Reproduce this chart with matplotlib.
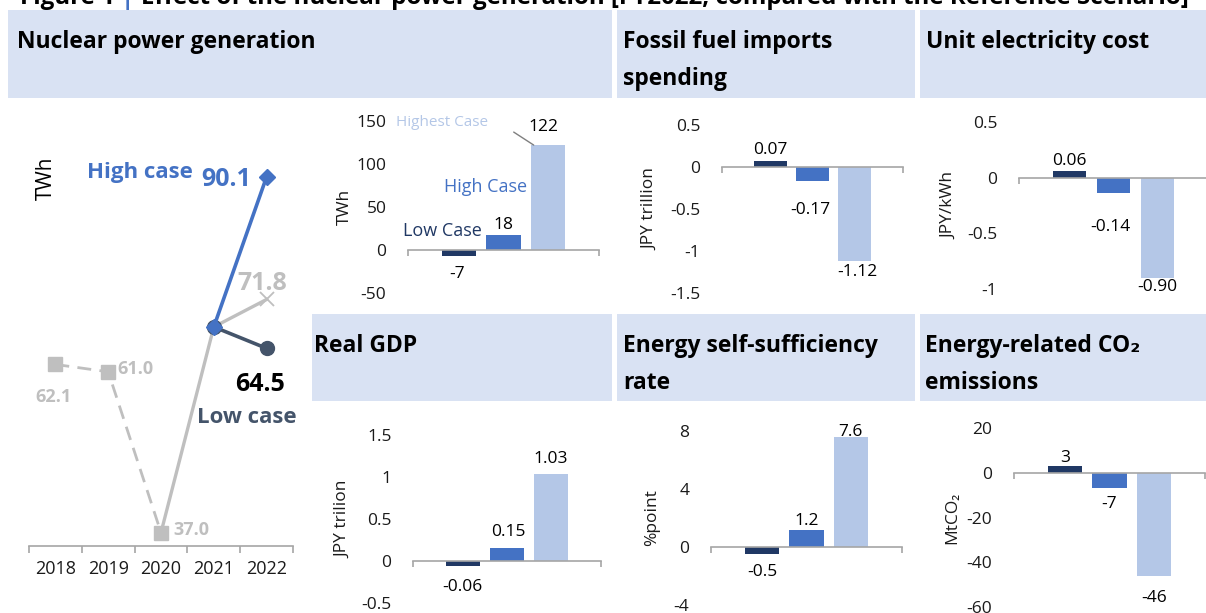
import matplotlib
matplotlib.use('Agg')
import matplotlib.pyplot as plt
from matplotlib.patches import Rectangle
import numpy as np

plt.rcParams['font.family'] = ['Open Sans', 'DejaVu Sans']
plt.rcParams['axes.unicode_minus'] = False
plt.rcParams['font.size'] = 12.5

# ---------------- data ----------------
years = ['2018', '2019', '2020', '2021', '2022']
hist_vals = [62.1, 61.0, 37.0]          # FY2018-2020
ref_vals = [37.0, 67.7, 71.8]           # FY2020-2022 (reference)
high_vals = [67.7, 90.1]                # FY2021-2022 high case
low_vals = [67.7, 64.5]                 # FY2021-2022 low case

cases = ['Low Case', 'High Case', 'Highest Case']
nuclear_diff = [-7, 18, 122]
fossil_diff = [0.07, -0.17, -1.12]
unitcost_diff = [0.06, -0.14, -0.90]
gdp_diff = [-0.06, 0.15, 1.03]
selfsuff_diff = [-0.5, 1.2, 7.6]
co2_diff = [3, -7, -46]

nuclear_ticks = [-50, 0, 50, 100, 150]
fossil_ticks = [-1.5, -1, -0.5, 0, 0.5]
unitcost_ticks = [-1, -0.5, 0, 0.5]
gdp_ticks = [-0.5, 0, 0.5, 1, 1.5]
selfsuff_ticks = [-4, 0, 4, 8]
co2_ticks = [-60, -40, -20, 0, 20]

title_a = 'Figure 1'
title_b = 'Effect of the nuclear power generation [FY2022, compared with the Reference Scenario]'
headers = [
    ['Nuclear power generation'],
    ['Fossil fuel imports', 'spending'],
    ['Unit electricity cost'],
    ['Real GDP'],
    ['Energy self-sufficiency', 'rate'],
    ['Energy-related CO\u2082', 'emissions'],
]

# ---------------- styling ----------------
W, H = 1206, 613
BOX = '#D9E2F3'
C_LOW = '#203864'
C_HIGH = '#4472C4'
C_HIGHEST = '#B4C7E7'
C_GRAY = '#BFBFBF'
C_SLATE = '#44546A'
C_AXIS = '#A6A6A6'
TXT = '#1a1a1a'

fig = plt.figure(figsize=(W / 100, H / 100), dpi=100)


def fx(x):
    return x / W


def fy(y):
    return 1 - y / H


# header boxes (pixel coords x0, y0, x1, y1)
boxes = [(8, 10, 612, 98), (617, 10, 915, 98), (920, 10, 1206, 98),
         (312, 314, 612, 401), (617, 314, 915, 401), (920, 314, 1206, 401)]
text_x = [17, 623, 926, 314, 623, 925]
for (x0, y0, x1, y1), lines, tx in zip(boxes, headers, text_x):
    fig.add_artist(Rectangle((fx(x0), fy(y1)), (x1 - x0) / W, (y1 - y0) / H,
                             transform=fig.transFigure, facecolor=BOX,
                             edgecolor='none', zorder=-5))
    for i, ln in enumerate(lines):
        fig.text(fx(tx), fy(y0 + 38 + 37 * i), ln, fontsize=16.5,
                 fontweight='bold', va='baseline', ha='left', color='#000000')

# title (cut off at the top)
r = fig.canvas.get_renderer()
ts = 15
t_a = fig.text(fx(20), fy(4), title_a, fontsize=ts, fontweight='bold', va='baseline')
t_bar = fig.text(fx(111), fy(4), '|', fontsize=ts, fontweight='bold', va='baseline', color=C_HIGH)
t_b = fig.text(fx(127), fy(4), title_b, fontsize=ts, fontweight='bold', va='baseline')


def layout_title(size):
    for t in (t_a, t_bar, t_b):
        t.set_fontsize(size)
    xa = 20
    t_a.set_x(fx(xa))
    ea = t_a.get_window_extent(renderer=r).x1
    t_bar.set_x(fx(ea + 6))
    eb = t_bar.get_window_extent(renderer=r).x1
    t_b.set_x(fx(eb + 7))
    return t_b.get_window_extent(renderer=r).x1


end = layout_title(ts)
ts = ts * (1192 - 20) / (end - 20)
layout_title(ts)

# ---------------- left line chart ----------------
yl0, yl1 = 35, 97
axL = fig.add_axes([fx(29), fy(546), (293 - 29) / W, ((yl1 - yl0) * 6.7) / H])
axL.set_facecolor('none')
axL.set_xlim(-0.5, 4.5)
axL.set_ylim(yl0, yl1)
for s in ['left', 'right', 'top']:
    axL.spines[s].set_visible(False)
axL.spines['bottom'].set_color(C_AXIS)
axL.spines['bottom'].set_linewidth(1.2)
axL.set_yticks([])
axL.set_xticks(np.arange(-0.5, 5, 1))
axL.set_xticklabels([])
axL.tick_params(axis='x', which='major', length=5, color=C_AXIS, width=1.2)
axL.set_xticks(np.arange(5), minor=True)
axL.set_xticklabels(years, minor=True, fontsize=13, color=TXT)
axL.tick_params(axis='x', which='minor', length=0, pad=10)

xh = [0, 1, 2]
xr = [2, 3, 4]
xc = [3, 4]
axL.plot(xr, ref_vals, color=C_GRAY, lw=2.4, zorder=2, clip_on=False)
axL.plot(xr[-1], ref_vals[-1], marker='x', ms=10, mew=1.3, color=C_GRAY, zorder=2, clip_on=False)
axL.plot(xh, hist_vals, color=C_GRAY, lw=2, ls=(0, (5, 3)), marker='s', ms=10,
         zorder=3, clip_on=False)
axL.plot(xc, low_vals, color=C_SLATE, lw=2.6, marker='o', ms=10, zorder=4, clip_on=False)
axL.plot(xc, high_vals, color=C_HIGH, lw=2.6, marker='D', ms=8.5, zorder=5, clip_on=False)


def lab(ax, x, y, s, dx, dy, **kw):
    ax.annotate(s, (x, y), xytext=(dx, dy), textcoords='offset pixels',
                va='center', annotation_clip=False, **kw)


gray_kw = dict(color=C_GRAY, fontweight='bold')
lab(axL, 0, hist_vals[0], f'{hist_vals[0]:.1f}', -2, -33, ha='center', fontsize=13, **gray_kw)
lab(axL, 1, hist_vals[1], f'{hist_vals[1]:.1f}', 9, 3, ha='left', fontsize=13, **gray_kw)
lab(axL, 2, hist_vals[2], f'{hist_vals[2]:.1f}', 12, 3, ha='left', fontsize=13, **gray_kw)
lab(axL, 4, ref_vals[2], f'{ref_vals[2]:.1f}', -4, 16, ha='center', fontsize=18, **gray_kw)
lab(axL, 4, high_vals[1], f'{high_vals[1]:.1f}', -15, -3, ha='right', fontsize=18,
    color=C_HIGH, fontweight='bold')
lab(axL, 4, low_vals[1], f'{low_vals[1]:.1f}', -7, -36, ha='center', fontsize=18,
    color='#000000', fontweight='bold')
lab(axL, 4, high_vals[1], 'High case', -127, 4, ha='center', fontsize=16,
    color=C_HIGH, fontweight='bold')
lab(axL, 4, low_vals[1], 'Low case', -20, -69, ha='center', fontsize=16,
    color=C_SLATE, fontweight='bold')
fig.text(fx(46), fy(178), 'TWh', rotation=90, ha='center', va='center', fontsize=15, color='#000000')

# ---------------- bar panels ----------------
bar_colors = [C_LOW, C_HIGH, C_HIGHEST]


def bar_panel(L, R, top, bottom, vals, ticks, ylabel, ylab_x, fmt, dys, dxs):
    ax = fig.add_axes([fx(L), fy(bottom), (R - L) / W, (bottom - top) / H])
    ax.set_facecolor('none')
    ax.set_xlim(-1.15, 3.15)
    ax.set_ylim(ticks[0], ticks[-1])
    xs = np.arange(len(vals))
    ax.bar(xs, vals, width=0.77, color=bar_colors, zorder=2)
    for s in ['left', 'right', 'top']:
        ax.spines[s].set_visible(False)
    ax.spines['bottom'].set_position(('data', 0))
    ax.spines['bottom'].set_color(C_AXIS)
    ax.spines['bottom'].set_linewidth(1.2)
    ax.set_xticks([-1.15, 3.15])
    ax.set_xticklabels([])
    ax.tick_params(axis='x', length=4, color=C_AXIS, width=1.2, direction='out')
    ax.set_yticks(ticks)
    ax.set_yticklabels([f'{t:g}' for t in ticks], color=TXT, fontsize=12.5)
    ax.tick_params(axis='y', length=0, pad=15.5)
    ax.text((ylab_x - L) / (R - L), 0.5, ylabel, transform=ax.transAxes, rotation=90,
            ha='center', va='center', fontsize=12.5, color=TXT)
    for x, v, dy, dx in zip(xs, vals, dys, dxs):
        lab(ax, x, v, fmt(v), dx, dy - 2, ha='center', fontsize=12.5, color='#000000')
    return ax


f_int = lambda v: f'{v:d}'
f_2 = lambda v: f'{v:.2f}'
f_1 = lambda v: f'{v:.1f}'

ax1 = bar_panel(408, 599, 121, 293, nuclear_diff, nuclear_ticks, 'TWh', 345, f_int,
                [-16, 11.5, 20], [-2, 0, -4])
ax1.annotate('', xy=(2 - 0.32, nuclear_diff[2]), xytext=(-20, 13), textcoords='offset pixels',
             arrowprops=dict(arrowstyle='-', color='#7F7F7F', lw=1, shrinkA=0, shrinkB=0))
# case labels inside the nuclear panel
ax1.annotate(cases[0], (0, 0), xytext=(-17, 19), textcoords='offset pixels', ha='center',
             va='center', fontsize=13, color=C_LOW)
ax1.annotate(cases[1], (1, 0), xytext=(-18, 63), textcoords='offset pixels', ha='center',
             va='center', fontsize=13, color=C_HIGH)
ax1.annotate(cases[2], (2, 0), xytext=(-106, 127), textcoords='offset pixels', ha='center',
             va='center', fontsize=11, color=C_HIGHEST)

bar_panel(722, 903, 125, 293, fossil_diff, fossil_ticks, 'JPY trillion', 650, f_2,
          [13, -27, -9], [0, -2, 3])
bar_panel(1019, 1208, 122, 289, unitcost_diff, unitcost_ticks, 'JPY/kWh', 949, f_2,
          [12, -32, -7], [0, -3, 0])
bar_panel(413, 601, 435, 603, gdp_diff, gdp_ticks, 'JPY trilion', 343, f_2,
          [-19, 18, 17.5], [-1, 1, 0])
bar_panel(711, 902, 431, 605, selfsuff_diff, selfsuff_ticks, '%point', 652, f_1,
          [-16, 10.6, 7], [0, 0, 0])
bar_panel(1014, 1205, 428, 607, co2_diff, co2_ticks, 'MtCO\u2082', 952, f_int,
          [10, -13.6, -20], [0, 0, 0])

fig.savefig('out.png', dpi=100)
